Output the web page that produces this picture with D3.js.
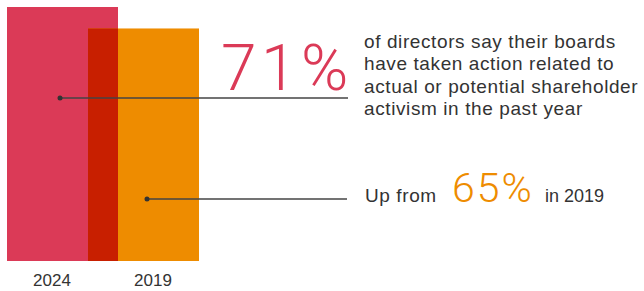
<!DOCTYPE html>
<html>
<head>
<meta charset="utf-8">
<script src="https://cdn.jsdelivr.net/npm/d3@7"></script>
<style>
  body { margin: 0; background: #fff; }
  svg { display: block; }
  .lbl { font-family: "Liberation Sans", Arial, sans-serif; fill: #333; }
  .big { font-family: Roboto, "Liberation Sans", sans-serif; font-weight: 300; }
</style>
</head>
<body>
<div id="chart"></div>
<script>
const years = ["2024", "2019"]
const values = [71, 65]
const colors = ["#db3a57", "#ee8c00"]
const overlapColor = "#c81f00"
const headline = ["of directors say their boards", "have taken action related to",
                  "actual or potential shareholder", "activism in the past year"]

const W = 644, H = 291
const BASE = 261

const svg = d3.select("#chart").append("svg")
    .attr("width", W)
    .attr("height", H)

// bars overlap, so each gets its own x start
const x = d3.scaleOrdinal().domain(years).range([7, 88])
const barW = 111
const y = d3.scaleLinear().domain([0, 71]).range([BASE, 7])

svg.selectAll("rect.bar")
    .data(years)
    .enter()
    .append("rect")
    .attr("class", "bar")
    .attr("x", d => x(d))
    .attr("y", (d, i) => y(values[i]))
    .attr("width", barW)
    .attr("height", (d, i) => BASE - y(values[i]))
    .attr("fill", (d, i) => colors[i])

// darker band where the two bars cross
const ox0 = Math.max(x(years[0]), x(years[1]))
const ox1 = Math.min(x(years[0]), x(years[1])) + barW
svg.append("rect")
    .attr("x", ox0)
    .attr("y", y(d3.min(values)))
    .attr("width", ox1 - ox0)
    .attr("height", BASE - y(d3.min(values)))
    .attr("fill", overlapColor)

svg.selectAll("text.year")
    .data(years)
    .enter()
    .append("text")
    .attr("class", "lbl year")
    .attr("x", (d, i) => i == 0 ? 52 : 153)
    .attr("y", 286)
    .attr("text-anchor", "middle")
    .style("font-size", "17px")
    .text(d => d)

// callout lines
const callouts = [
  {x0: 60, y0: 98, x1: 348},
  {x0: 147, y0: 199, x1: 347}
]
callouts.forEach(c => {
  svg.append("line")
      .attr("x1", c.x0).attr("x2", c.x1)
      .attr("y1", c.y0).attr("y2", c.y0)
      .attr("stroke", "#444")
      .attr("stroke-width", 1.5)
  svg.append("circle")
      .attr("cx", c.x0).attr("cy", c.y0)
      .attr("r", 2.5)
      .attr("fill", "#333")
})

svg.append("text")
    .attr("class", "big")
    .attr("x", 221)
    .attr("y", 90)
    .attr("fill", colors[0])
    .style("font-size", "64px")
    .style("letter-spacing", "4.5px")
    .text(values[0] + "%")

svg.append("text")
    .attr("class", "lbl")
    .style("font-size", "19px")
    .style("letter-spacing", "0.6px")
    .selectAll("tspan")
    .data(headline)
    .enter()
    .append("tspan")
    .attr("x", 364)
    .attr("y", (d, i) => 48 + i * 22.3)
    .text(d => d)

const sub = svg.append("text")
    .attr("class", "lbl")
    .attr("x", 365)
    .attr("y", 202)
    .style("font-size", "19px")
sub.append("tspan")
    .style("letter-spacing", "0.6px")
    .text("Up from ")
sub.append("tspan")
    .attr("x", 452)
    .attr("class", "big")
    .attr("fill", colors[1])
    .style("font-size", "41px")
    .style("letter-spacing", "2px")
    .text(values[1] + "%")
sub.append("tspan")
    .attr("x", 545)
    .style("font-size", "18px")
    .text("in " + years[1])
</script>
</body>
</html>
